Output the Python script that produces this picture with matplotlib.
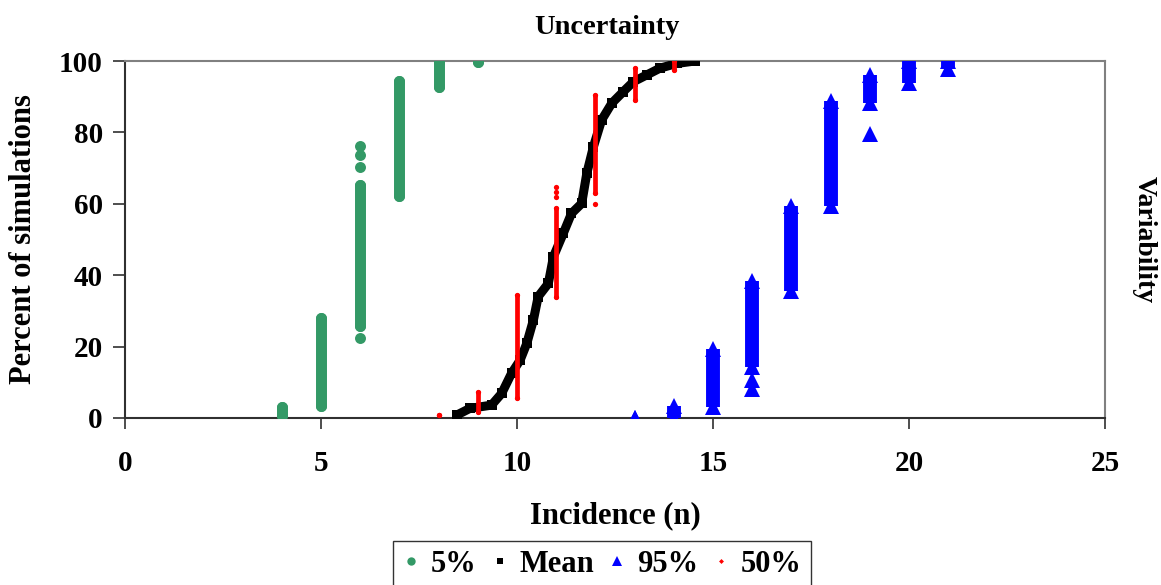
import matplotlib
matplotlib.use("Agg")
import matplotlib.pyplot as plt
from matplotlib.lines import Line2D

# ---- data ----
# 5% percentile: vertical runs of simulations at each integer incidence
p5_x = [4, 5, 6, 7, 8, 9]
p5_low = [0.7, 3.5, 25.9, 62.3, 92.6, 99.8]
p5_high = [3.2, 27.9, 65.4, 94.5, 100.0, 99.8]
p5_extra_x = [6, 6, 6, 6]
p5_extra_y = [22.4, 70.3, 73.7, 76.2]

# 50% percentile
p50_x = [8, 9, 10, 11, 12, 13, 14]
p50_low = [0.8, 1.7, 5.6, 34.0, 63.0, 89.0, 97.5]
p50_high = [0.8, 7.3, 34.4, 58.8, 90.5, 98.0, 100.0]
p50_extra_x = [11, 11, 11, 12]
p50_extra_y = [61.9, 63.3, 64.7, 60.0]

# 95% percentile
p95_x = [13, 14, 15, 16, 17, 18, 19, 20, 21]
p95_low = [0.0, 0.0, 3.0, 14.3, 35.6, 59.4, 88.2, 93.8, 97.8]
p95_high = [0.0, 3.4, 19.3, 38.4, 59.4, 88.8, 96.0, 100.0, 100.0]
p95_extra_x = [16, 16, 19]
p95_extra_y = [8.1, 10.6, 79.6]

# Mean curve
mean_x = [8.46, 8.8, 9.35, 9.61, 9.86, 10.08, 10.25, 10.42, 10.54, 10.80, 10.93,
          11.18, 11.39, 11.65, 11.78, 11.95, 12.16, 12.42, 12.71, 12.97, 13.31,
          13.65, 14.07, 14.54]
mean_y = [0.8, 2.7, 3.6, 6.9, 12.5, 16.2, 20.9, 27.5, 34.0, 37.7, 45.2,
          51.7, 57.3, 60.1, 68.5, 76.0, 83.5, 88.2, 91.4, 94.2, 96.1,
          98.0, 99.3, 100.0]

x_ticks = [0, 5, 10, 15, 20, 25]
y_ticks = [0, 20, 40, 60, 80, 100]

GREEN = "#339966"
BLUE = "#0000ff"
RED = "#ff0000"
FONT = "Liberation Serif"

plt.rcParams["font.family"] = [FONT, "DejaVu Serif"]
plt.rcParams["font.weight"] = "bold"

fig = plt.figure(figsize=(11.61, 5.85), dpi=100)
ax = fig.add_axes([125 / 1161, 1 - 418 / 585, 980 / 1161, 357 / 585])

# 5% series
ax.vlines(p5_x, p5_low, p5_high, color=GREEN, lw=7.9, capstyle="round", zorder=3)
ax.plot(p5_x, p5_low, "o", color=GREEN, ms=7.9, mew=0, zorder=3)
ax.plot(p5_x, p5_high, "o", color=GREEN, ms=7.9, mew=0, zorder=3)
ax.plot(p5_extra_x, p5_extra_y, "o", color=GREEN, ms=7.9, mew=0, zorder=3)

# Mean
ax.plot(mean_x, mean_y, "-", color="black", lw=6.5, solid_capstyle="butt", zorder=4)
ax.plot(mean_x, mean_y, "s", color="black", ms=7, mew=0, zorder=4)

# 95% series
ax.vlines(p95_x, p95_low, p95_high, color=BLUE, lw=10, capstyle="butt", zorder=3)
ax.plot(p95_x, p95_low, "^", color=BLUE, ms=11, mew=0, zorder=3)
ax.plot(p95_x, p95_high, "^", color=BLUE, ms=11, mew=0, zorder=3)
ax.plot(p95_extra_x, p95_extra_y, "^", color=BLUE, ms=11, mew=0, zorder=3)

# 50% series
ax.vlines(p50_x, p50_low, p50_high, color=RED, lw=3.4, capstyle="round", zorder=5)
ax.plot(p50_x, p50_low, "o", color=RED, ms=3.8, mew=0, zorder=5)
ax.plot(p50_x, p50_high, "o", color=RED, ms=3.8, mew=0, zorder=5)
ax.plot(p50_extra_x, p50_extra_y, "o", color=RED, ms=3.8, mew=0, zorder=5)

ax.set_xlim(0, 25)
ax.set_ylim(0, 100)
ax.set_xticks(x_ticks)
ax.set_yticks(y_ticks)
ax.set_xticklabels([str(v) for v in x_ticks], fontsize=21, fontweight="bold", family=FONT)
ax.set_yticklabels([str(v) for v in y_ticks], fontsize=21, fontweight="bold", family=FONT)
ax.tick_params(axis="y", direction="out", length=9, width=1.2, pad=7,
               colors="#303030", labelcolor="black")
ax.tick_params(axis="x", direction="out", length=8, width=1.2, pad=15,
               colors="#303030", labelcolor="black")

for s in ["left", "bottom"]:
    ax.spines[s].set_color("#303030")
    ax.spines[s].set_linewidth(1.5)
for s in ["top", "right"]:
    ax.spines[s].set_color("#808080")
    ax.spines[s].set_linewidth(1.5)

for lbl in ax.get_xticklabels() + ax.get_yticklabels():
    lbl.set_clip_on(False)

fig.text(607 / 1161, 1 - 28 / 585, "Uncertainty", ha="center", va="center",
         fontsize=20.5, fontweight="bold", family=FONT)
fig.text(615 / 1161, 1 - 516 / 585, "Incidence (n)", ha="center", va="center",
         fontsize=22, fontweight="bold", family=FONT)
fig.text(24 / 1161, 1 - 239 / 585, "Percent of simulations", ha="center", va="center",
         rotation=90, fontsize=22, fontweight="bold", family=FONT)
fig.text(1144 / 1161, 1 - 240 / 585, "Variability", ha="center", va="center",
         rotation=270, fontsize=20, fontweight="bold", family=FONT)

handles = [
    Line2D([], [], ls="none", marker="o", color=GREEN, ms=6, mew=0),
    Line2D([], [], ls="none", marker="s", color="black", ms=4, mew=0),
    Line2D([], [], ls="none", marker="^", color=BLUE, ms=7.5, mew=0),
    Line2D([], [], ls="none", marker="D", color=RED, ms=2.5, mew=0),
]
labels = ["5%", "Mean", "95%", "50%"]
leg = fig.legend(handles, labels, loc="upper center",
                 bbox_to_anchor=(602 / 1161, 1 - 541 / 585), ncol=4,
                 frameon=True, fancybox=False, edgecolor="black",
                 prop={"family": FONT, "weight": "bold", "size": 22},
                 handlelength=0.6, handletextpad=0.35, columnspacing=0.45,
                 borderpad=0.3, borderaxespad=0)
leg.get_frame().set_linewidth(1.0)

fig.savefig("out.png", dpi=100)
